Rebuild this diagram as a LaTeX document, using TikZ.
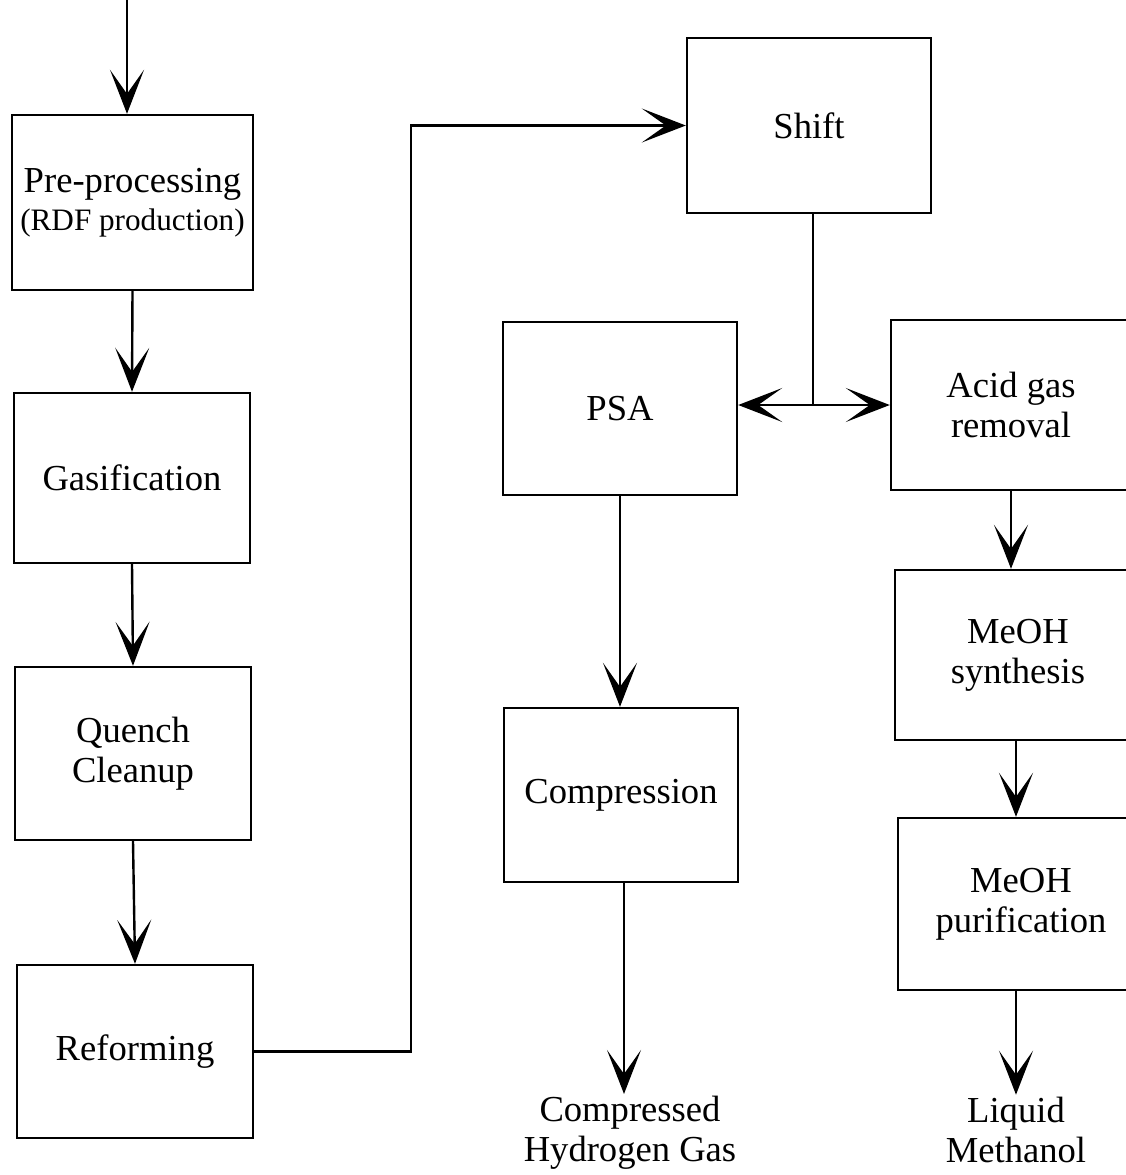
\documentclass[tikz,border=0pt]{standalone}
\usepackage{fontspec}
\setmainfont{Liberation Serif}
\usetikzlibrary{arrows.meta, calc, positioning}
\tikzset{
  blk/.style={
    rectangle, draw=black, fill=white,
    line width=1.2pt, align=center, inner sep=2pt,
    font=\fontsize{18.3}{20}\selectfont,
  },
  arr/.style={
    -{Stealth[length=22pt,width=17pt,inset=12pt]},
    line width=1.2pt,
  },
  lbl/.style={
    align=center, inner sep=1pt,
    font=\fontsize{18.3}{20}\selectfont,
  },
}
\begin{document}
\begin{tikzpicture}[x=0.5pt,y=-0.5pt]
  \clip (0,0) rectangle (1126,1175);
  % left column
  \node[blk,minimum width=120.5pt,minimum height=87.5pt](pre) at (132.5,202.5)
    {Pre-processing\\[-1pt]{\fontsize{15.6}{18}\selectfont(RDF production)}};
  \node[blk,minimum width=118pt,minimum height=85pt](gas)    at (132,478)   {Gasification};
  \node[blk,minimum width=118pt,minimum height=86.5pt](qc)   at (133,753.5) {Quench\\Cleanup};
  \node[blk,minimum width=118pt,minimum height=86.5pt](ref)  at (135,1051.5){Reforming};
  % middle column
  \node[blk,minimum width=122pt,minimum height=87.5pt](shift) at (809,125.5) {Shift};
  \node[blk,minimum width=117pt,minimum height=86.5pt](psa)   at (620,408.5) {PSA};
  \node[blk,minimum width=117pt,minimum height=87pt](comp)    at (621,795)   {Compression};
  \node[lbl](h2) at (630,1133) {Compressed\\Hydrogen Gas};
  % right column
  \node[blk,minimum width=120pt,minimum height=85pt](agr)   at (1011,405)  {Acid gas\\removal};
  \node[blk,minimum width=123pt,minimum height=85pt](syn)   at (1018,655)  {MeOH\\synthesis};
  \node[blk,minimum width=123pt,minimum height=86pt](pur)   at (1021,904)  {MeOH\\purification};
  \node[lbl](meoh) at (1016,1130) {Liquid\\Methanol};
  % connectors
  \coordinate (feed) at (127,0);
  \draw[arr] (feed) -- (feed |- pre.north);
  \draw[arr] (pre.south) -- (gas.north);
  \draw[arr] (gas.south) -- (qc.north);
  \draw[arr] (qc.south) -- (ref.north);
  \draw[arr] (ref.east) -- ++(157,0) |- (shift.west);
  \coordinate (split) at ($(shift.south |- agr.west)+(4,0)$);
  \draw[line width=1.2pt] ($(shift.south)+(4,0)$) -- (split);
  \draw[arr] (split) -- (psa.east |- split);
  \draw[arr] (split) -- (agr.west);
  \draw[arr] (psa.south) -- (psa.south |- comp.north);
  \draw[arr] ($(comp.south)+(3,0)$) -- ($(comp.south |- h2.north)+(3,0)$);
  \draw[arr] (agr.south) -- (agr.south |- syn.north);
  \draw[arr] ($(syn.south)+(-2,0)$) -- ($(syn.south |- pur.north)+(-2,0)$);
  \draw[arr] ($(pur.south)+(-5,0)$) -- ($(pur.south |- meoh.north)+(-5,0)$);
\end{tikzpicture}
\end{document}
